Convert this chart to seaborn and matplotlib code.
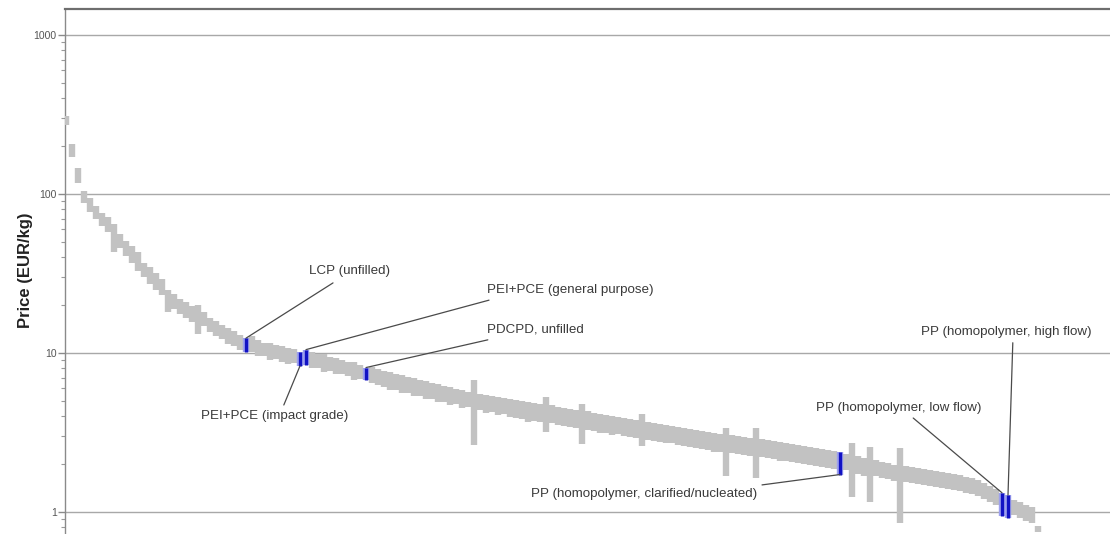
import numpy as np
import pandas as pd
import matplotlib
matplotlib.use("Agg")
import matplotlib.pyplot as plt
import seaborn as sns
from matplotlib.ticker import FixedLocator, LogLocator, NullFormatter

# Price range (EUR/kg) of each material grade, sorted from most to least expensive
price_low = [
    270, 170, 118, 88, 77, 70, 63, 58, 43, 46,
    41, 37, 33, 30, 27, 25, 23, 18, 19, 17.5,
    16.5, 15.7, 13.2, 14.8, 13.6, 12.8, 12.2, 11.4, 11.1, 10.4,
    10.2, 10.1, 9.6, 9.6, 9.0, 9.2, 8.8, 8.5, 8.7, 8.3,
    8.4, 8.1, 8.1, 7.6, 7.7, 7.4, 7.4, 7.2, 6.8, 6.9,
    6.8, 6.5, 6.3, 6.1, 5.85, 5.85, 5.6, 5.6, 5.35, 5.4,
    5.15, 5.1, 4.9, 4.95, 4.7, 4.75, 4.5, 4.55, 2.64, 4.38,
    4.2, 4.25, 4.05, 4.15, 3.95, 3.9, 3.85, 3.7, 3.75, 3.68,
    3.2, 3.62, 3.5, 3.47, 3.42, 3.37, 2.68, 3.3, 3.25, 3.15,
    3.14, 3.05, 3.08, 3.0, 2.95, 2.92, 2.6, 2.85, 2.78, 2.76,
    2.7, 2.7, 2.62, 2.6, 2.55, 2.53, 2.48, 2.46, 2.4, 2.38,
    1.68, 2.35, 2.3, 2.28, 2.24, 1.64, 2.22, 2.18, 2.15, 2.1,
    2.1, 2.05, 2.03, 1.99, 1.98, 1.94, 1.92, 1.88, 1.86, 1.72,
    1.84, 1.24, 1.74, 1.69, 1.16, 1.69, 1.63, 1.61, 1.56, 0.85,
    1.54, 1.52, 1.49, 1.48, 1.45, 1.44, 1.41, 1.4, 1.37, 1.36,
    1.32, 1.3, 1.26, 1.21, 1.16, 1.11, 0.94, 0.92, 0.96, 0.92,
    0.88, 0.85, 0.75,
]
price_high = [
    310, 205, 145, 104, 94, 84, 76, 72, 65, 56,
    51, 47, 43, 37, 35, 32, 29, 25, 23.5, 22,
    21, 19.8, 20, 18, 16.6, 16, 15, 14.3, 13.7, 13,
    12.4, 12.8, 12, 11.6, 11.6, 11.2, 11, 10.8, 10.6, 10.2,
    10.5, 10.1, 9.8, 9.8, 9.4, 9.3, 9.0, 8.8, 8.8, 8.4,
    8.1, 8.2, 7.9, 7.7, 7.6, 7.4, 7.3, 7.1, 6.95, 6.8,
    6.7, 6.5, 6.4, 6.2, 6.1, 5.95, 5.85, 5.7, 6.8, 5.5,
    5.45, 5.35, 5.3, 5.2, 5.15, 5.05, 5.0, 4.9, 4.85, 4.78,
    5.3, 4.7, 4.6, 4.5, 4.45, 4.38, 4.78, 4.32, 4.2, 4.15,
    4.05, 4.0, 3.95, 3.9, 3.85, 3.78, 4.14, 3.68, 3.62, 3.58,
    3.5, 3.47, 3.42, 3.38, 3.32, 3.28, 3.22, 3.18, 3.14, 3.08,
    3.37, 3.05, 3.0, 2.96, 2.92, 3.37, 2.88, 2.84, 2.8, 2.76,
    2.72, 2.68, 2.64, 2.6, 2.56, 2.52, 2.49, 2.45, 2.42, 2.38,
    2.32, 2.72, 2.25, 2.19, 2.56, 2.12, 2.06, 2.03, 1.98, 2.52,
    1.95, 1.92, 1.89, 1.86, 1.84, 1.81, 1.78, 1.76, 1.74, 1.71,
    1.66, 1.64, 1.59, 1.52, 1.46, 1.4, 1.32, 1.28, 1.19, 1.16,
    1.11, 1.07, 0.82,
]

# Named grades picked out in the ranking (position in the sorted list)
highlight_names = [
    "LCP (unfilled)",
    "PEI+PCE (impact grade)",
    "PEI+PCE (general purpose)",
    "PDCPD, unfilled",
    "PP (homopolymer, clarified/nucleated)",
    "PP (homopolymer, low flow)",
    "PP (homopolymer, high flow)",
]
highlight_rank = [30, 39, 40, 50, 129, 156, 157]

y_ticks = [1, 10, 100, 1000]
y_tick_labels = ["1", "10", "100", "1000"]

sns.set_theme(style="white")
plt.rcParams["font.family"] = ["Liberation Sans", "DejaVu Sans"]

rank = np.arange(len(price_low))
df = pd.DataFrame({
    "rank": np.repeat(rank, 2),
    "price": np.column_stack([price_low, price_high]).ravel(),
})
df["material"] = df["rank"]
is_hi = df["rank"].isin(highlight_rank)

fig = plt.figure(figsize=(11.1, 5.34), dpi=100)
ax = fig.add_axes([65 / 1110, 0.0, 1 - 65 / 1110, 1 - 9 / 534])

# grey range bars for every grade
sns.lineplot(data=df[~is_hi], x="rank", y="price", units="material",
             estimator=None, sort=False, color="#c2c2c2", lw=4.6,
             solid_capstyle="butt", ax=ax, legend=False, zorder=3)
# highlighted grades in blue
sns.lineplot(data=df[is_hi], x="rank", y="price", units="material",
             estimator=None, sort=False, color="#9da0ee", lw=4.6,
             solid_capstyle="butt", ax=ax, legend=False, zorder=4)
sns.lineplot(data=df[is_hi], x="rank", y="price", units="material",
             estimator=None, sort=False, color="#1212c4", lw=2.4,
             solid_capstyle="butt", ax=ax, legend=False, zorder=5)

ax.set_yscale("log")
ax.set_ylim(0.727, 1458)
ax.set_xlim(-0.17, 174)

ax.yaxis.set_major_locator(FixedLocator(y_ticks))
ax.set_yticklabels(y_tick_labels)
ax.yaxis.set_minor_locator(LogLocator(base=10, subs=np.arange(2, 10)))
ax.yaxis.set_minor_formatter(NullFormatter())
ax.tick_params(axis="y", which="major", left=True, length=5, width=1,
               color="#8a8a8a", labelsize=7.5, labelcolor="#555555", pad=1)
ax.tick_params(axis="y", which="minor", left=True, length=3, width=0.8,
               color="#9a9a9a")
ax.set_xticks([])
ax.set_xlabel("")

ax.yaxis.grid(True, which="major", color="#a8a8a8", lw=1.0)
ax.xaxis.grid(False)
ax.set_axisbelow(True)

for side in ("right", "bottom"):
    ax.spines[side].set_visible(False)
ax.spines["top"].set_color("#6e6e6e")
ax.spines["top"].set_linewidth(1.6)
ax.spines["left"].set_color("#8a8a8a")
ax.spines["left"].set_linewidth(1.0)

ax.set_ylabel("Price (EUR/kg)", fontsize=12, fontweight="bold", color="#222222")
ax.yaxis.set_label_coords(-0.031, 0.503)

# callouts: (text x, text y, alignment, leader start, which end of the bar)
callouts = {
    "LCP (unfilled)": ((47.3, 32.8), "center", (44.5, 27.6), "high"),
    "PEI+PCE (general purpose)": ((70.2, 24.9), "left", (70.5, 21.5), "high"),
    "PDCPD, unfilled": ((70.2, 14.0), "left", (70.3, 12.1), "high"),
    "PEI+PCE (impact grade)": ((34.8, 4.02), "center", (36.3, 4.71), "low"),
    "PP (homopolymer, clarified/nucleated)": ((115.2, 1.30), "right", (116.0, 1.48), "low"),
    "PP (homopolymer, low flow)": ((138.8, 4.51), "center", (141.2, 3.9), "high"),
    "PP (homopolymer, high flow)": ((156.8, 13.6), "center", (157.8, 11.6), "high"),
}
for name, r in zip(highlight_names, highlight_rank):
    (tx, ty), ha, (lx, ly), end = callouts[name]
    target = price_high[r] if end == "high" else price_low[r]
    ax.plot([lx, r], [ly, target], color="#4a4a4a", lw=0.9, zorder=6)
    ax.text(tx, ty, name, ha=ha, va="center", fontsize=9.6, color="#3a3a3a",
            zorder=7)

fig.savefig("out.png", dpi=100)
